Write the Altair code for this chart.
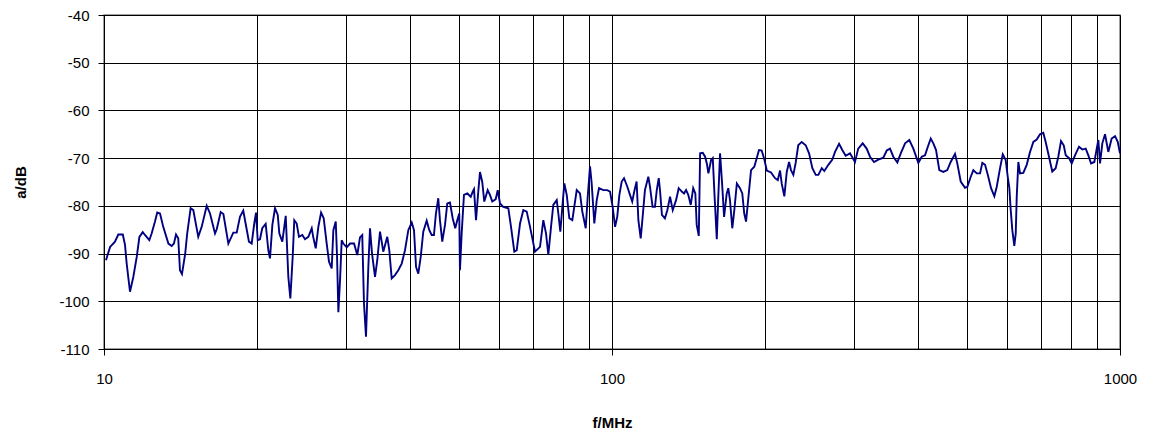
import altair as alt
import pandas as pd

# Frequency in MHz
freq = [
    10.09, 10.28, 10.51, 10.67, 10.89, 11.00, 11.08, 11.25, 11.42, 11.60, 11.74, 11.92, 12.04, 12.28, 12.41,
    12.60, 12.73, 12.89, 13.08, 13.39, 13.59, 13.73, 13.86, 14.00, 14.11, 14.24, 14.45, 14.58, 14.81, 14.99,
    15.33, 15.57, 15.93, 16.17, 16.54, 16.67, 16.97, 17.18, 17.57,
    17.97, 18.25, 18.52, 18.80, 19.00, 19.29, 19.53, 19.76, 19.92, 20.07, 20.28, 20.49, 20.81, 21.06, 21.22,
    21.45, 21.71, 21.98, 22.14, 22.44, 22.79, 23.06, 23.27, 23.52, 23.69, 23.95, 24.20, 24.57, 24.87, 25.25,
    25.64, 25.81, 26.11, 26.42, 26.75, 27.07, 27.44, 27.73, 28.07, 28.28, 28.59, 28.76, 28.93, 29.15, 29.37,
    29.59, 30.05, 30.50,
    31.06, 31.52, 31.91, 32.24, 32.49, 32.79, 33.14, 33.39, 33.70, 34.16, 34.51, 34.94, 35.21, 35.46, 36.11,
    36.44, 36.84, 37.39, 37.96, 38.55, 39.13, 39.72, 40.34, 40.76, 41.14, 41.56, 42.02, 42.51, 43.17, 43.69,
    44.16, 44.62, 45.02, 45.50, 45.85, 46.33, 46.91, 47.40, 47.98, 48.57, 49.14, 49.59, 50.04, 50.20, 50.59,
    51.12, 51.91, 52.71, 53.19, 53.50, 53.99, 54.55, 54.97,
    55.54, 56.05, 56.92, 57.51, 58.12, 59.03, 59.57, 60.20, 61.09, 62.51, 63.27, 64.23, 64.93, 65.91, 66.90,
    67.94, 68.97, 70.54, 72.16, 73.25, 74.16, 74.93, 75.85, 76.64, 77.84, 78.41, 79.12, 79.85, 80.57, 81.45,
    82.41, 83.54, 85.22, 86.50, 87.41, 88.77, 89.58, 90.52, 91.20, 92.30, 93.31, 94.28, 96.14,
    97.88, 99.11, 100.3, 101.4, 102.4, 103.4, 104.5, 105.6, 107.2, 108.5, 109.6, 110.6, 111.8, 112.7, 113.9,
    114.9, 116.1, 117.9, 118.8, 120.2, 121.5, 122.5, 123.6, 124.3, 125.4, 127.1, 128.5, 130.1, 131.7, 133.7,
    135.3, 137.2, 138.6, 139.9, 141.3, 142.9, 144.5, 145.9, 146.8, 148.2, 149.1, 150.9, 152.5, 153.7, 154.8,
    156.7, 157.9, 159.1, 160.8, 161.9, 163.2, 164.7, 166.2,
    168.2, 169.4, 170.7, 172.5, 174.1, 176.1, 178.6, 180.5, 182.1, 183.6, 185.5, 187.8, 190.6, 192.7, 194.7,
    197.1, 199.5, 201.7, 205.6, 209.4, 212.0, 214.2, 215.8, 218.4, 220.8, 223.1, 225.1, 227.5, 229.9, 232.6,
    236.3, 240.6, 244.3, 248.0, 251.8, 254.8, 258.8, 261.8, 266.6, 271.5, 274.8, 279.9, 284.0, 288.4, 294.1,
    300.8, 305.3, 311.5, 317.2, 322.0, 327.9, 334.4, 342.1, 347.4, 352.6, 357.9, 364.5, 370.2, 377.5, 384.8,
    391.9, 400.9, 407.1, 413.2, 419.5, 424.1, 429.1, 434.4, 440.9, 449.0, 457.1, 464.2, 473.4, 478.3, 485.8,
    495.4, 500.6, 508.4, 514.4, 522.4, 530.3,
    535.8, 542.5, 549.2, 557.4, 565.8, 572.0, 580.6, 587.8, 595.7, 601.2, 605.6, 609.4, 613.8, 619.4, 623.4,
    626.2, 630.8, 635.6, 645.2, 655.2, 665.1, 675.2, 685.5, 695.9, 706.3, 714.0, 724.8, 735.7, 747.1, 756.0,
    765.4, 774.9, 781.9, 793.7, 803.4, 815.5, 830.4, 843.0, 856.1, 866.3, 877.0, 890.2, 899.9, 906.5, 913.5,
    923.0, 934.4, 948.4, 962.9, 977.7, 989.7, 1000.0,
]

# Attenuation in dB
level = [
    -91.4, -88.6, -87.5, -86.0, -86.0, -88.2, -92.0, -98.0, -94.9, -90.7, -86.5, -85.5, -86.1, -87.2, -85.8,
    -83.3, -81.4, -81.6, -84.4, -87.9, -88.4, -87.9, -86.0, -86.8, -93.5, -94.3, -90.0, -85.8, -80.5, -80.9,
    -86.5, -84.4, -80.0, -81.6, -85.8, -84.9, -81.3, -81.7, -87.9,
    -85.6, -85.6, -82.3, -81.0, -83.7, -87.5, -87.9, -83.7, -81.4, -87.2, -87.0, -84.7, -83.8, -89.3, -91.0,
    -84.0, -80.5, -81.9, -85.8, -87.5, -82.1, -94.9, -99.4, -90.7, -83.0, -83.7, -86.5, -86.1, -87.0, -86.5,
    -84.7, -86.5, -88.9, -84.4, -81.4, -82.6, -87.9, -91.7, -93.1, -85.1, -83.3, -90.7, -102.3, -95.6, -87.2,
    -87.9, -88.7, -87.9,
    -87.9, -90.3, -86.6, -86.1, -100.4, -107.4, -92.8, -84.7, -90.0, -94.9, -91.4, -85.4, -87.5, -89.6, -86.5,
    -89.3, -95.2, -94.5, -93.5, -92.1, -89.3, -85.1, -83.5, -85.1, -92.8, -94.2, -90.7, -85.4, -83.1, -85.1,
    -86.1, -86.1, -81.6, -78.4, -83.0, -87.5, -84.0, -79.5, -79.3, -82.6, -84.7, -83.0, -81.6, -93.5, -85.8,
    -77.7, -77.4, -78.1, -77.0, -76.5, -83.0, -77.0, -72.9,
    -75.0, -79.1, -76.7, -77.7, -79.1, -78.6, -76.7, -79.5, -80.2, -80.5, -84.4, -89.6, -89.3, -83.7, -80.9,
    -81.2, -84.4, -89.6, -88.6, -83.0, -85.8, -90.3, -84.4, -79.8, -78.8, -81.6, -85.4, -80.2, -75.3, -77.7,
    -82.6, -83.0, -76.7, -77.4, -81.2, -84.7, -78.1, -71.7, -75.3, -83.7, -78.8, -76.3, -76.7,
    -76.7, -77.0, -80.2, -84.4, -82.3, -77.7, -74.9, -74.2, -76.0, -77.7, -79.1, -77.0, -74.9, -83.0, -86.8,
    -82.3, -76.7, -73.9, -76.0, -80.2, -80.2, -76.7, -74.2, -76.7, -81.9, -82.6, -80.9, -78.1, -80.9, -78.8,
    -76.3, -77.0, -77.4, -76.7, -77.7, -79.8, -76.3, -77.4, -84.0, -86.3, -69.0, -68.9, -69.7, -71.1, -73.2,
    -70.4, -70.0, -77.4, -87.0, -78.1, -69.0, -75.3, -82.3,
    -77.4, -76.3, -78.8, -84.7, -80.9, -75.3, -76.3, -77.4, -81.6, -83.3, -78.4, -72.5, -71.8, -70.0, -68.3,
    -68.4, -70.3, -72.6, -73.0, -74.2, -74.6, -72.6, -75.3, -78.0, -72.9, -70.8, -72.5, -73.5, -71.0, -67.3,
    -66.6, -67.3, -69.0, -72.1, -73.5, -73.5, -72.1, -72.7, -71.4, -70.3, -68.7, -67.0, -68.3, -69.5, -69.0,
    -70.8, -68.0, -66.9, -68.0, -69.7, -70.8, -70.3, -69.9, -68.4, -68.0, -69.7, -70.9, -69.0, -66.9, -66.2,
    -68.0, -71.0, -69.7, -69.4, -67.3, -65.9, -66.9, -68.3, -72.5, -72.9, -72.5, -70.8, -69.1, -71.1, -74.9,
    -76.2, -76.0, -73.9, -72.5, -73.2, -73.2,
    -71.0, -71.4, -73.5, -76.3, -78.0, -76.0, -72.1, -69.2, -70.4, -73.9, -76.3, -80.9, -85.1, -88.4, -85.8,
    -78.1, -70.8, -73.2, -73.1, -71.4, -68.7, -66.6, -66.1, -65.0, -64.7, -66.6, -69.7, -72.8, -72.1, -69.7,
    -66.4, -67.3, -69.4, -70.0, -71.1, -69.4, -67.6, -68.2, -68.0, -69.4, -71.1, -70.8, -68.0, -66.2, -71.1,
    -66.9, -65.0, -68.7, -65.9, -65.4, -66.6, -69.0,
]

grid_freqs = [10, 20, 30, 40, 50, 60, 70, 80, 90, 100, 200, 300, 400, 500, 600, 700, 800, 900, 1000]
label_freqs = [10, 100, 1000]
y_ticks = [-110, -100, -90, -80, -70, -60, -50, -40]

df = pd.DataFrame({"f": freq, "a": level})

FONT = "Liberation Sans"
label_test = " || ".join(f"datum.value == {v}" for v in label_freqs)

x_axis = alt.Axis(
    values=grid_freqs,
    grid=True,
    gridColor="black",
    gridOpacity=1,
    gridWidth=1,
    labelExpr=f"({label_test}) ? toString(datum.value) : ''",
    labelFlush=False,
    labelFont=FONT,
    labelFontSize=15,
    labelColor="black",
    labelPadding=16,
    tickSize=6,
    tickColor={"condition": {"test": label_test, "value": "black"}, "value": "transparent"},
    domainColor="black",
    title="f/MHz",
    titleFont=FONT,
    titleFontSize=15,
    titleFontWeight="bold",
    titleColor="black",
    titlePadding=29,
)

y_axis = alt.Axis(
    values=y_ticks,
    grid=True,
    gridColor="black",
    gridOpacity=1,
    gridWidth=1,
    labelExpr="toString(datum.value)",
    labelFont=FONT,
    labelFontSize=15,
    labelColor="black",
    labelPadding=9,
    tickSize=6,
    tickColor="black",
    domainColor="black",
    title="a/dB",
    titleFont=FONT,
    titleFontSize=15,
    titleFontWeight="bold",
    titleColor="black",
    titlePadding=30,
)

chart = (
    alt.Chart(df)
    .mark_line(color="#000080", strokeWidth=1.9)
    .encode(
        x=alt.X("f:Q", scale=alt.Scale(type="log", domain=[10, 1000], nice=False), axis=x_axis),
        y=alt.Y("a:Q", scale=alt.Scale(domain=[-110, -40], nice=False, zero=False), axis=y_axis),
        order="f:Q",
    )
    .properties(
        width=1016,
        height=334,
        autosize=alt.AutoSizeParams(type="none"),
        padding={"left": 104, "top": 15, "right": 35, "bottom": 89},
        background="white",
    )
    .configure_view(stroke="#808080", strokeWidth=1.5)
)

chart.save("out.html", embed_options={"renderer": "svg", "actions": False})
